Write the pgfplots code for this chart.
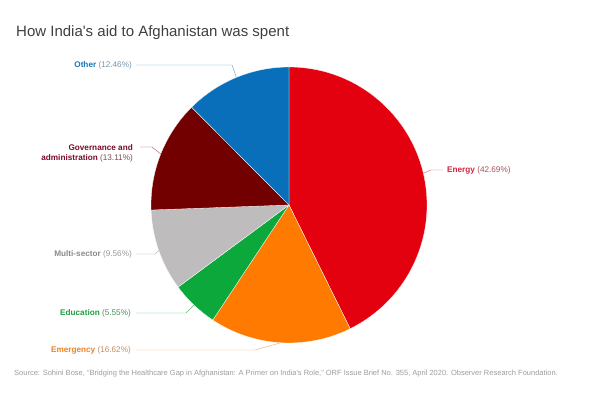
\documentclass[border=0pt]{standalone}
\usepackage{pgfplots}
\pgfplotsset{compat=1.18}
\usepackage{pgfplotstable}
\usepackage{fontspec}
\setmainfont{Liberation Sans}[Ligatures=TeXOff]
\definecolor{cEnergy}{HTML}{E3000F}
\definecolor{cEmerg}{HTML}{FF7A00}
\definecolor{cEduc}{HTML}{0DA83C}
\definecolor{cMulti}{HTML}{BEBCBC}
\definecolor{cGov}{HTML}{720000}
\definecolor{cOther}{HTML}{0A6FBA}
\definecolor{tEnergy}{HTML}{D4213D}
\definecolor{tEmerg}{HTML}{F0821E}
\definecolor{tEduc}{HTML}{20A040}
\definecolor{tMulti}{HTML}{8A8A8A}
\definecolor{tGov}{HTML}{7A0A28}
\definecolor{tOther}{HTML}{1877B8}
\pgfplotstableread{
name value
Energy 42.69
Emergency 16.62
Education 5.55
Multi-sector 9.56
Governance 13.11
Other 12.46
}\piedata
\begin{document}
\begin{tikzpicture}
\begin{axis}[scale only axis, width=593pt, height=395pt,
  xmin=0, xmax=593, ymin=0, ymax=395, hide axis, clip=false]
\path[fill=white] (axis cs:0,0) rectangle (axis cs:593,395);
\pgfplotsextra{
  \gdef\cum{0}
  \foreach \r/\c in {0/cEnergy,1/cEmerg,2/cEduc,3/cMulti,4/cGov,5/cOther}{
    \pgfplotstablegetelem{\r}{value}\of\piedata
    \let\v\pgfplotsretval
    \pgfmathsetmacro\a{90-3.6*\cum}
    \pgfmathsetmacro\b{90-3.6*(\cum+\v)}
    \fill[\c, draw=white, line width=0.3pt, line join=round] (axis cs:289,190) -- ++(\a:138pt) arc[start angle=\a, end angle=\b, radius=138pt] -- cycle;
    \pgfmathsetmacro\n{\cum+\v}\xdef\cum{\n}
  }
}
% title and source
\node[anchor=west, inner sep=0pt, font=\fontsize{15}{17}\selectfont, text=black!75] at (axis cs:16,362) {How India's aid to Afghanistan was spent};
\node[anchor=west, inner sep=0pt, font=\fontsize{7.5}{9}\selectfont, text=black!38] at (axis cs:14,21) {Source: Sohini Bose, “Bridging the Healthcare Gap in Afghanistan: A Primer on India's Role,” ORF Issue Brief No. 355, April 2020. Observer Research Foundation.};
% leaders
\draw[tOther!70, line width=0.4pt] (axis cs:136,330) -- (axis cs:232,330) -- (axis cs:236.4,317.6);
\draw[tGov!70, line width=0.4pt] (axis cs:140,248) -- (axis cs:152,248) -- (axis cs:160.7,241);
\draw[tMulti!70, line width=0.4pt] (axis cs:136,141) -- (axis cs:155,141) -- (axis cs:158.8,144.4);
\draw[tEduc!70, line width=0.4pt] (axis cs:136,82) -- (axis cs:186,82) -- (axis cs:194,90);
\draw[tEmerg!70, line width=0.4pt] (axis cs:136,45) -- (axis cs:255,45) -- (axis cs:280,52);
\draw[tEnergy!70, line width=0.4pt] (axis cs:423,221.5) -- (axis cs:431,225) -- (axis cs:443,225);
% labels
\begin{scope}[every node/.style={font=\fontsize{8.2}{10}\selectfont, inner sep=0pt}]
\node[anchor=east] at (axis cs:132,330) {\textcolor{tOther}{\bfseries Other} \textcolor{tOther!45!gray!80}{(12.46\%)}};
\node[anchor=east, align=right] at (axis cs:133,242) {\textcolor{tGov}{\bfseries Governance and}\\\textcolor{tGov}{\bfseries administration} \textcolor{tGov!45!gray}{(13.11\%)}};
\node[anchor=east] at (axis cs:132,141) {\textcolor{tMulti}{\bfseries Multi-sector} \textcolor{gray!80}{(9.56\%)}};
\node[anchor=east] at (axis cs:131,82) {\textcolor{tEduc}{\bfseries Education} \textcolor{tEduc!50!gray}{(5.55\%)}};
\node[anchor=east] at (axis cs:131,45) {\textcolor{tEmerg}{\bfseries Emergency} \textcolor{tEmerg!55!gray!90}{(16.62\%)}};
\node[anchor=west] at (axis cs:447,225) {\textcolor{tEnergy}{\bfseries Energy} \textcolor{tEnergy!50!gray}{(42.69\%)}};
\end{scope}
\end{axis}
\end{tikzpicture}
\end{document}
